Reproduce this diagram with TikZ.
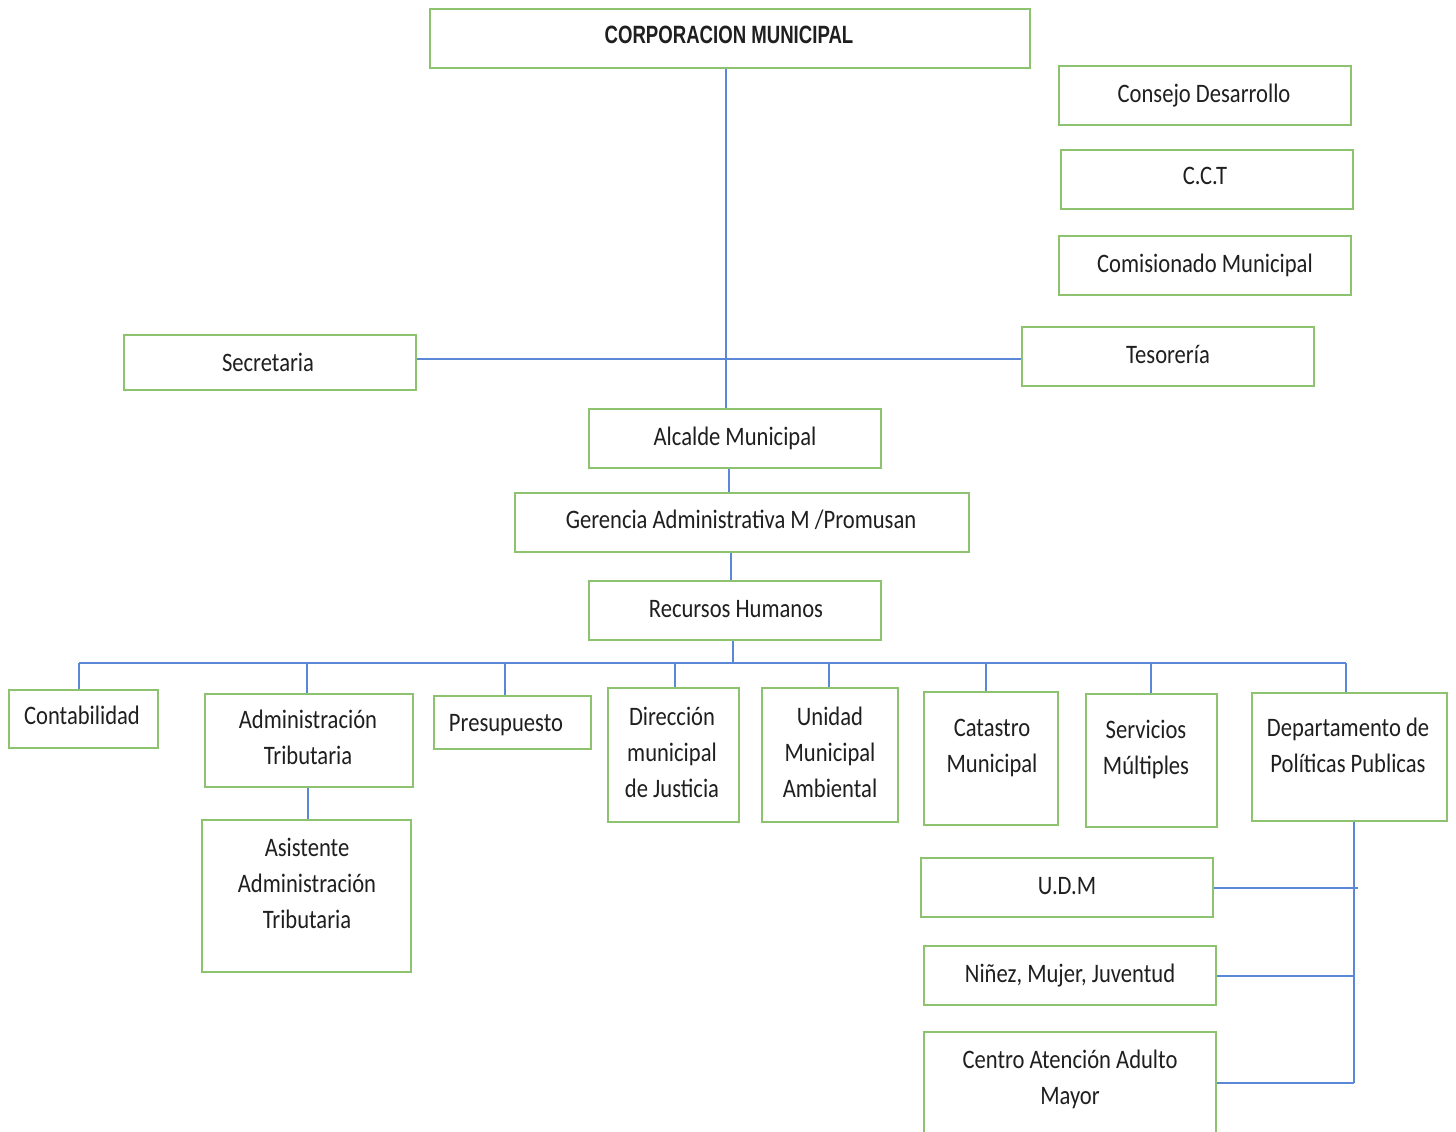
\documentclass[tikz,border=0pt]{standalone}
\usepackage{fontspec}
\setmainfont{Carlito}
\newfontfamily\titlefont{Liberation Sans}
\usetikzlibrary{fit}
\definecolor{boxgreen}{HTML}{8DC26F}
\definecolor{linkblue}{HTML}{5A87D6}
\definecolor{txt}{HTML}{1F1F1F}
\newcommand\vt[1]{\scalebox{1}[1.18]{\begin{tabular}{@{}c@{}}#1\end{tabular}}}
\begin{document}
\begin{tikzpicture}[x=0.5pt,y=-0.5pt,
  box/.style={draw=boxgreen, line width=1pt, inner sep=0pt, fill=white},
  lbl/.style={inner sep=0pt, text=txt, font=\fontsize{11.3}{15.25}\selectfont},
  link/.style={draw=linkblue, line width=1pt}]
\useasboundingbox (0,0) rectangle (1456,1131);
\clip (0,0) rectangle (1456,1131);
\fill[white] (0,0) rectangle (1456,1131);

% boxes
\node[box, fit={(430,9)(1030,68)}] (corp) {};
\node[box, fit={(1059,66)(1351,125)}] (cons) {};
\node[box, fit={(1061,150)(1353,209)}] (cct) {};
\node[box, fit={(1059,236)(1351,295)}] (comi) {};
\node[box, fit={(124,335)(416,390)}] (sec) {};
\node[box, fit={(1022,327)(1314,386)}] (tes) {};
\node[box, fit={(589,409)(881,468)}] (alc) {};
\node[box, fit={(515,493)(969,552)}] (ger) {};
\node[box, fit={(589,581)(881,640)}] (rh) {};
\node[box, fit={(9,690)(158,748)}] (cont) {};
\node[box, fit={(205,694)(413,787)}] (adm) {};
\node[box, fit={(202,820)(411,972)}] (asis) {};
\node[box, fit={(434,696)(591,749)}] (pres) {};
\node[box, fit={(608,688)(739,822)}] (dir) {};
\node[box, fit={(762,688)(898,822)}] (uma) {};
\node[box, fit={(924,692)(1058,825)}] (cat) {};
\node[box, fit={(1086,694)(1217,827)}] (serv) {};
\node[box, fit={(1252,693)(1447,821)}] (dep) {};
\node[box, fit={(921,858)(1213,917)}] (udm) {};
\node[box, fit={(924,946)(1216,1005)}] (nmj) {};
\node[box, fit={(924,1032)(1216,1150)}] (cen) {};

% labels
\node[inner sep=0pt, text=txt] (corpT) at (729,35) {\scalebox{0.93}[1.25]{\titlefont\bfseries\fontsize{10}{12}\selectfont CORPORACION MUNICIPAL}};
\node[lbl] (consT) at (1204,95) {\vt{Consejo Desarrollo}};
\node[lbl] (cctT) at (1205,177) {\vt{C.C.T}};
\node[lbl] (comiT) at (1205,265) {\vt{Comisionado Municipal}};
\node[lbl] (secT) at (268,364) {\vt{Secretaria}};
\node[lbl] (tesT) at (1168,356) {\vt{Tesorería}};
\node[lbl] (alcT) at (735,438) {\vt{Alcalde Municipal}};
\node[lbl] (gerT) at (741,521) {\vt{Gerencia Administrativa M /Promusan}};
\node[lbl] (rhT) at (736,610) {\vt{Recursos Humanos}};
\node[lbl] (contT) at (82,717) {\vt{Contabilidad}};
\node[lbl] (admT) at (308,739) {\vt{Administración\\Tributaria}};
\node[lbl] (asisT) at (307,885) {\vt{Asistente\\Administración\\Tributaria}};
\node[lbl] (presT) at (506,724) {\vt{Presupuesto}};
\node[lbl] (dirT) at (672,754) {\vt{Dirección\\municipal\\de Justicia}};
\node[lbl] (umaT) at (830,754) {\vt{Unidad\\Municipal\\Ambiental}};
\node[lbl] (catT) at (992,747) {\vt{Catastro\\Municipal}};
\node[lbl] (servT) at (1146,749) {\vt{Servicios\\Múltiples}};
\node[lbl] (depT) at (1348,747) {\vt{Departamento de\\Políticas Publicas}};
\node[lbl] (udmT) at (1067,887) {\vt{U.D.M}};
\node[lbl] (nmjT) at (1070,975) {\vt{Niñez, Mujer, Juventud}};
\node[lbl] (cenT) at (1070,1079) {\vt{Centro Atención Adulto\\Mayor}};

% connectors
\draw[link] (726,0 |- corp.south) -- (726,0 |- alc.north);
\coordinate (hy) at (0,359);
\draw[link] (sec.east |- hy) -- (tes.west |- hy);
\draw[link] (729,0 |- alc.south) -- (729,0 |- ger.north);
\draw[link] (731,0 |- ger.south) -- (731,0 |- rh.north);
\coordinate (busL) at (79,663);
\coordinate (busR) at (1346,663);
\draw[link] (733,0 |- rh.south) -- (733,0 |- busL);
\draw[link] (busL) -- (busR);
\foreach \n/\x in {cont/79, adm/307, pres/505, dir/675, uma/829, cat/986, serv/1151, dep/1346}
  \draw[link] (\x,0 |- busL) -- (\x,0 |- \n.north);
\draw[link] (308,0 |- adm.south) -- (308,0 |- asis.north);
\coordinate (dv) at (1354,1083);
\draw[link] (dv |- dep.south) -- (dv);
\draw[link] (udm.east) -- (1358,0 |- udm.east);
\draw[link] (nmj.east) -- (dv |- nmj.east);
\draw[link] (cen.north east |- dv) -- (dv);
\end{tikzpicture}
\end{document}
